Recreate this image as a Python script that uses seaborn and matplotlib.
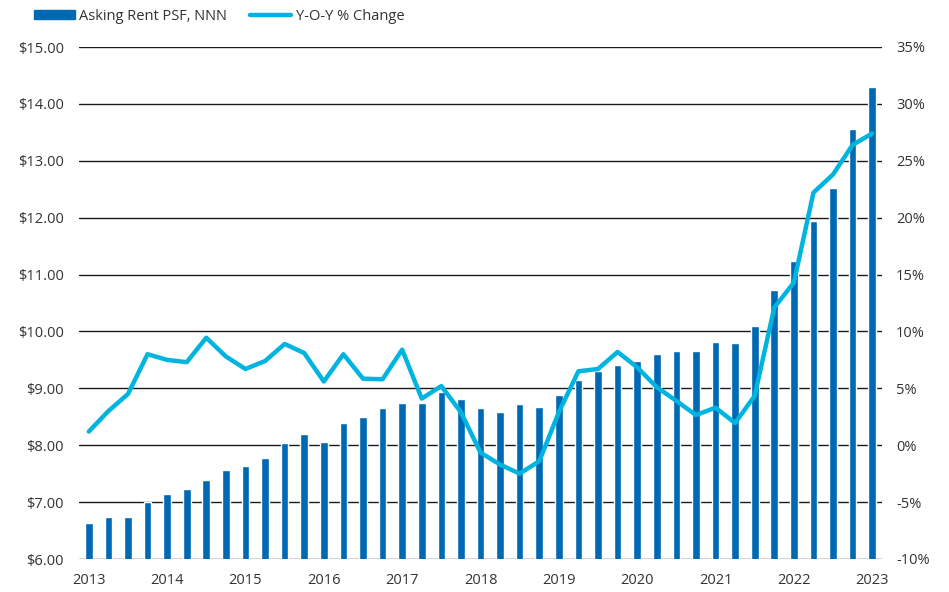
import numpy as np
import pandas as pd
import matplotlib
matplotlib.use("Agg")
import matplotlib.pyplot as plt
import seaborn as sns
from matplotlib.ticker import FuncFormatter
from matplotlib.patches import Patch
from matplotlib.lines import Line2D

# Quarterly data, 2013 Q1 - 2023 Q1
quarters = [f"{y} Q{q}" for y in range(2013, 2024) for q in range(1, 5)][:41]
asking_rent = [6.64, 6.74, 6.74, 7.01, 7.14, 7.23, 7.39, 7.57, 7.63, 7.77,
               8.04, 8.19, 8.06, 8.39, 8.50, 8.66, 8.74, 8.74, 8.94, 8.82,
               8.65, 8.59, 8.72, 8.68, 8.89, 9.14, 9.31, 9.41, 9.48, 9.60,
               9.66, 9.65, 9.81, 9.79, 10.09, 10.72, 11.23, 11.94, 12.52, 13.55,
               14.30]
yoy_change = [1.2, 3.0, 4.5, 8.0, 7.5, 7.3, 9.45, 7.8, 6.7, 7.4,
              8.9, 8.1, 5.6, 8.0, 5.85, 5.8, 8.4, 4.1, 5.2, 2.9,
              -0.65, -1.7, -2.5, -1.4, 2.9, 6.5, 6.7, 8.2, 6.85, 5.1,
              3.9, 2.65, 3.3, 1.95, 4.35, 12.1, 14.3, 22.2, 23.8, 26.4,
              27.4]
year_labels = [str(y) for y in range(2013, 2024)]

BAR_COLOR = "#0069B4"
LINE_COLOR = "#00B4E0"
TEXT_COLOR = "#333333"
FS = 10.5

df = pd.DataFrame({"quarter": quarters, "rent": asking_rent, "yoy": yoy_change})
df["pos"] = np.arange(len(df))

sns.set_style("white")
plt.rcParams["font.family"] = ["Open Sans", "DejaVu Sans"]

fig = plt.figure(figsize=(9.49, 5.92), dpi=100)
ax = fig.add_axes([79 / 949, 33 / 592, 803 / 949, 512 / 592])

# bars: asking rent
sns.barplot(data=df, x="pos", y="rent", color=BAR_COLOR, width=0.39,
            saturation=1, ax=ax, zorder=2)
ax.set_ylim(6, 15)
ax.set_xlim(-0.5, len(df) - 0.5)
ax.set_yticks(np.arange(6, 16, 1))
ax.yaxis.set_major_formatter(FuncFormatter(lambda v, p: f"${v:.2f}"))
ax.set_xticks(np.arange(0, len(df), 4))
ax.set_xticklabels(year_labels)
ax.grid(axis="y", color="#1a1a1a", linewidth=1.0, zorder=0)
ax.set_axisbelow(True)
ax.set_xlabel("")
ax.set_ylabel("")
for s in ax.spines.values():
    s.set_visible(False)
ax.tick_params(axis="both", length=0, labelsize=FS, colors=TEXT_COLOR)
ax.tick_params(axis="y", pad=11)
ax.tick_params(axis="x", pad=10)

# line: year-over-year change
ax2 = ax.twinx()
sns.lineplot(data=df, x="pos", y="yoy", color=LINE_COLOR, linewidth=3.2,
             ax=ax2, solid_joinstyle="round", solid_capstyle="round")
ax2.set_ylim(-10, 35)
ax2.set_yticks(np.arange(-10, 40, 5))
ax2.yaxis.set_major_formatter(FuncFormatter(lambda v, p: f"{v:.0f}%"))
ax2.set_ylabel("")
for s in ax2.spines.values():
    s.set_visible(False)
ax2.tick_params(axis="y", length=0, labelsize=FS, colors=TEXT_COLOR, pad=10)

# legend at top left
handles = [Patch(color=BAR_COLOR, label="Asking Rent PSF, NNN"),
           Line2D([0], [0], color=LINE_COLOR, linewidth=3.2,
                  solid_capstyle="round", label="Y-O-Y % Change")]
fig.legend(handles=handles, loc="upper left", bbox_to_anchor=(0.022, 1.007),
           ncol=2, frameon=False, fontsize=FS, handlelength=2.8,
           handleheight=0.6, handletextpad=0.3, columnspacing=1.6,
           labelcolor=TEXT_COLOR)

fig.savefig("out.png", dpi=100)
